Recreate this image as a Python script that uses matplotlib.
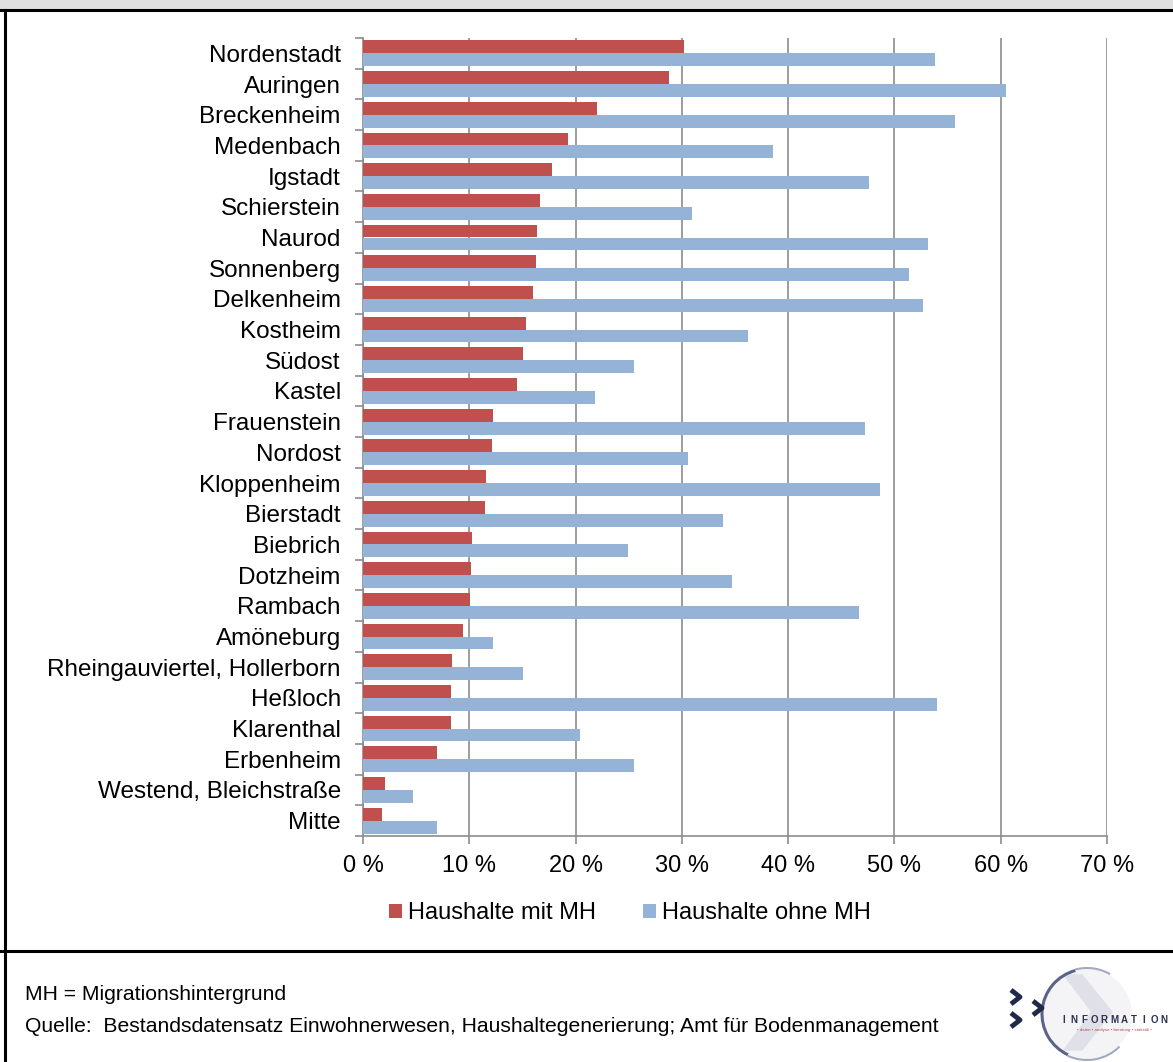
import matplotlib.pyplot as plt
from matplotlib.patches import Rectangle, Arc, Circle, Polygon
from matplotlib.lines import Line2D

plt.rcParams['font.family'] = ['Liberation Sans', 'DejaVu Sans']

districts = ["Nordenstadt", "Auringen", "Breckenheim", "Medenbach", "Igstadt",
             "Schierstein", "Naurod", "Sonnenberg", "Delkenheim", "Kostheim",
             "Südost", "Kastel", "Frauenstein", "Nordost", "Kloppenheim",
             "Bierstadt", "Biebrich", "Dotzheim", "Rambach", "Amöneburg",
             "Rheingauviertel, Hollerborn", "Heßloch", "Klarenthal", "Erbenheim",
             "Westend, Bleichstraße", "Mitte"]
mit_mh = [30.2, 28.8, 22.0, 19.3, 17.8, 16.7, 16.4, 16.3, 16.0, 15.3,
          15.1, 14.5, 12.2, 12.1, 11.6, 11.5, 10.3, 10.2, 10.1, 9.4,
          8.4, 8.3, 8.3, 7.0, 2.1, 1.8]
ohne_mh = [53.8, 60.5, 55.7, 38.6, 47.6, 31.0, 53.2, 51.4, 52.7, 36.2,
           25.5, 21.8, 47.2, 30.6, 48.6, 33.9, 24.9, 34.7, 46.7, 12.2,
           15.1, 54.0, 20.4, 25.5, 4.7, 7.0]
x_ticks = [0, 10, 20, 30, 40, 50, 60, 70]
legend_labels = ["Haushalte mit MH", "Haushalte ohne MH"]

RED = "#C0504D"
BLUE = "#95B3D7"
GRID = "#8c8c8c"

W, H = 1173, 1062
fig = plt.figure(figsize=(W / 100, H / 100), dpi=100)


def fy(py):
    return 1 - py / H


# frame around the chart
fig.patches.append(Rectangle((0, fy(9)), 1, 9 / H, transform=fig.transFigure,
                             facecolor="#e0e0e0", edgecolor="none", zorder=0))
fig.lines.append(Line2D([0, 1], [fy(10), fy(10)], transform=fig.transFigure,
                        color="black", lw=2.2))
fig.lines.append(Line2D([4.5 / W, 4.5 / W], [0, fy(10)], transform=fig.transFigure,
                        color="black", lw=2.2))
fig.lines.append(Line2D([0, 1], [fy(951), fy(951)], transform=fig.transFigure,
                        color="black", lw=2.2))

ax = fig.add_axes([363 / W, fy(836), (1107 - 363) / W, (836 - 38) / H])

n = len(districts)
ys = list(range(n))
h = 0.42
ax.barh([y - h / 2 for y in ys], mit_mh, height=h, color=RED, zorder=3,
        label=legend_labels[0])
ax.barh([y + h / 2 for y in ys], ohne_mh, height=h, color=BLUE, zorder=3,
        label=legend_labels[1])

ax.set_xlim(0, 70)
ax.set_ylim(n - 0.5, -0.5)
ax.set_xticks(x_ticks)
ax.set_xticklabels([f"{v} %" for v in x_ticks], fontsize=17)
ax.set_yticks(ys)
ax.set_yticklabels(districts, fontsize=17.5)
ax.set_yticks([y + 0.5 for y in range(-1, n)], minor=True)
ax.tick_params(axis="y", which="major", length=0, pad=16)
ax.tick_params(axis="y", which="minor", length=6, color=GRID, width=1.2)
ax.tick_params(axis="x", length=6, color=GRID, width=1.2, pad=8)

ax.grid(axis="x", color=GRID, lw=1.2, zorder=0)
for s in ["top", "right"]:
    ax.spines[s].set_visible(False)
for s in ["left", "bottom"]:
    ax.spines[s].set_color(GRID)
    ax.spines[s].set_linewidth(1.2)

fig.legend(loc="center", bbox_to_anchor=(630 / W, fy(913)), ncol=2, frameon=False,
           fontsize=17, handlelength=0.55, handleheight=0.55, handletextpad=0.25,
           columnspacing=2.0)

fig.text(25 / W, fy(994), "MH = Migrationshintergrund", fontsize=15.2, va="center")
fig.text(25 / W, fy(1026),
         "Quelle:  Bestandsdatensatz Einwohnerwesen, Haushaltegenerierung; Amt für Bodenmanagement",
         fontsize=15.2, va="center")

# logo, drawn in figure pixel coordinates
lax = fig.add_axes([980 / W, 0, 193 / W, 111 / H])
lax.set_xlim(980, 1173)
lax.set_ylim(1062, 951)
lax.axis("off")
lax.add_patch(Circle((1087, 1014), 44, color="#f4f4f7", zorder=1))
lax.add_patch(Polygon([(1064, 975), (1082, 975), (1112, 1012), (1082, 1050),
                       (1064, 1050), (1092, 1012)], closed=True,
                      color="#dfe0e8", zorder=1.5))
lax.add_patch(Arc((1087, 1014), 90, 90, theta1=115, theta2=255,
                  color="#5c6386", lw=2.2, zorder=2))
lax.add_patch(Arc((1087, 1014), 92, 92, theta1=45, theta2=115,
                  color="#a3a8c2", lw=1.5, zorder=2))
lax.add_patch(Arc((1087, 1014), 92, 92, theta1=255, theta2=300,
                  color="#a3a8c2", lw=1.5, zorder=2))
for cx, cy in [(1016, 997), (1038, 1008), (1016, 1020)]:
    lax.plot([cx - 5, cx + 4, cx - 5], [cy - 7, cy, cy + 7], color="#1f2a48",
             lw=3.5, solid_capstyle="butt", zorder=3)
letters = "INFORMATION"
for k, ch in enumerate(letters):
    lax.text(1064 + k * 10.0, 1020, ch, fontsize=7, ha="center", va="center",
             color="#2b3350", fontweight="bold", zorder=4)
lax.text(1114, 1030, "• daten • analyse • beratung • statistik •", fontsize=3.2,
         ha="center", va="center", color="#b05050", zorder=4)

fig.savefig("out.png", dpi=100)
